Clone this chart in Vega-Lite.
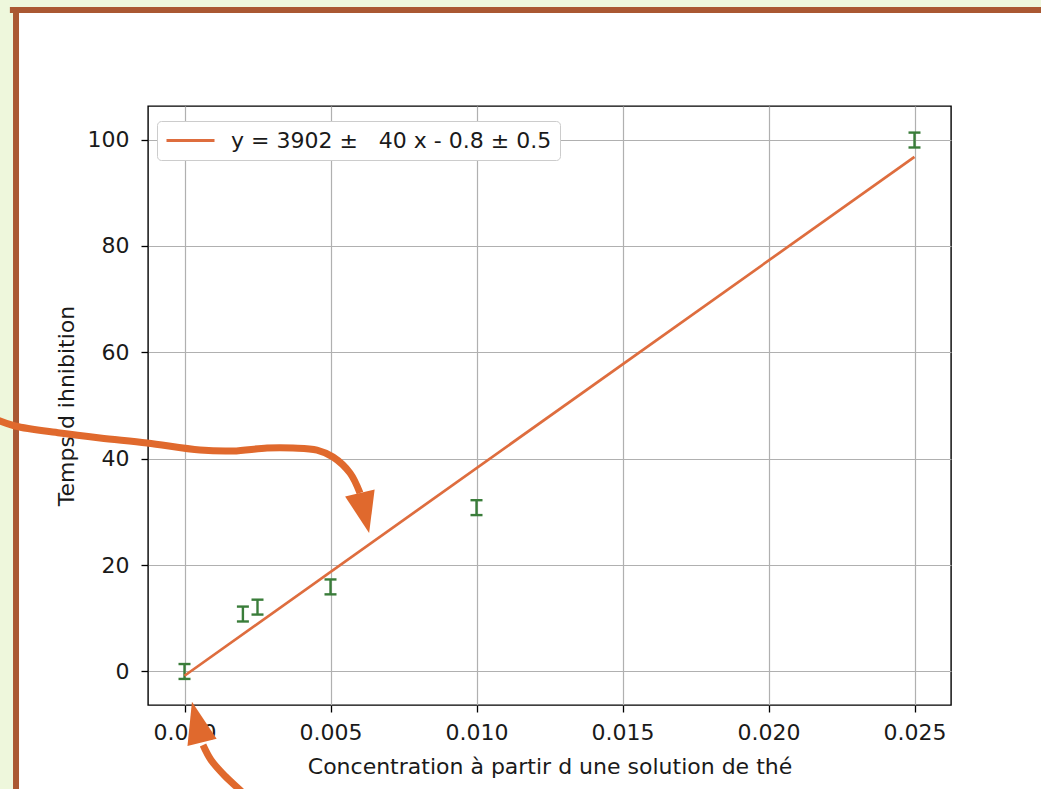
{
  "$schema": "https://vega.github.io/schema/vega-lite/v6.json",
  "width": 803,
  "height": 599,
  "autosize": {"type": "none"},
  "padding": {"left": 148, "top": 106, "right": 90, "bottom": 84},
  "background": "white",
  "config": {
    "font": "DejaVu Sans",
    "view": {"stroke": "black", "strokeWidth": 1.4},
    "axis": {
      "domain": false, "grid": true, "gridColor": "#b0b0b0", "gridWidth": 1.2,
      "tickColor": "black", "tickSize": 7, "tickWidth": 1.3,
      "labelFont": "DejaVu Sans", "labelFontSize": 22, "labelColor": "#1a1a1a",
      "titleFont": "DejaVu Sans", "titleFontSize": 22, "titleFontWeight": "normal", "titleColor": "#1a1a1a"
    },
    "axisX": {"labelPadding": 10, "titlePadding": 13},
    "axisY": {"labelPadding": 12, "titlePadding": 9},
    "legend": {
      "orient": "none", "legendX": 9, "legendY": 15,
      "fillColor": "white", "strokeColor": "#cccccc", "cornerRadius": 4, "padding": 8,
      "symbolType": "stroke", "symbolSize": 2304, "symbolStrokeWidth": 2.8, "clipHeight": 23,
      "labelFont": "DejaVu Sans", "labelFontSize": 22, "labelColor": "#1a1a1a", "labelOffset": 15, "labelLimit": 0
    }
  },
  "datasets": {
    "mesures": [
      {"conc": 0, "temps": 0, "err": 1.4},
      {"conc": 0.002, "temps": 10.8, "err": 1.4},
      {"conc": 0.0025, "temps": 12.1, "err": 1.4},
      {"conc": 0.005, "temps": 15.9, "err": 1.4},
      {"conc": 0.01, "temps": 30.8, "err": 1.4},
      {"conc": 0.025, "temps": 99.9, "err": 1.4}
    ],
    "ajustement": [
      {"conc": 0, "temps": -0.8, "label": "y = 3902 ±\u00a0\u00a0\u00a040 x - 0.8 ± 0.5"},
      {"conc": 0.025, "temps": 96.75, "label": "y = 3902 ±\u00a0\u00a0\u00a040 x - 0.8 ± 0.5"}
    ],
    "fleches": [
      {"arrow": "a", "i": 0, "x": -0.00649, "y": 47.46},
      {"arrow": "a", "i": 1, "x": -0.005805, "y": 46.15},
      {"arrow": "a", "i": 2, "x": -0.004264, "y": 44.83},
      {"arrow": "a", "i": 3, "x": -0.002894, "y": 43.89},
      {"arrow": "a", "i": 4, "x": -0.001284, "y": 42.95},
      {"arrow": "a", "i": 5, "x": 0.000531, "y": 41.63},
      {"arrow": "a", "i": 6, "x": 0.001661, "y": 41.45},
      {"arrow": "a", "i": 7, "x": 0.002825, "y": 42.01},
      {"arrow": "a", "i": 8, "x": 0.003716, "y": 42.01},
      {"arrow": "a", "i": 9, "x": 0.004538, "y": 41.63},
      {"arrow": "a", "i": 10, "x": 0.005086, "y": 40.32},
      {"arrow": "a", "i": 11, "x": 0.005668, "y": 37.31},
      {"arrow": "a", "i": 12, "x": 0.00601, "y": 33.55},
      {"arrow": "b", "i": 0, "x": 0.000634, "y": -13.82},
      {"arrow": "b", "i": 1, "x": 0.000908, "y": -16.64},
      {"arrow": "b", "i": 2, "x": 0.001387, "y": -19.65},
      {"arrow": "b", "i": 3, "x": 0.001901, "y": -22.28},
      {"arrow": "b", "i": 4, "x": 0.002243, "y": -24.16}
    ]
  },
  "layer": [
    {
      "data": {"values": [{}]},
      "mark": {"type": "rect", "color": "#eef7dc"},
      "encoding": {
        "x": {"datum": -0.0072, "type": "quantitative", "scale": {"domain": [-0.00125, 0.02625], "nice": false, "zero": false}, "title": "Concentration à partir d une solution de thé"},
        "x2": {"datum": -0.005873},
        "y": {"datum": 128.5, "type": "quantitative", "scale": {"domain": [-6.3, 106.3], "nice": false, "zero": false}, "title": "Temps d ihnibition"},
        "y2": {"datum": -25}
      }
    },
    {
      "data": {"values": [{}]},
      "mark": {"type": "rect", "color": "#eef7dc"},
      "encoding": {
        "x": {"datum": -0.0072, "type": "quantitative", "scale": {"domain": [-0.00125, 0.02625], "nice": false, "zero": false}, "title": "Concentration à partir d une solution de thé"},
        "x2": {"datum": 0.0300},
        "y": {"datum": 128.5, "type": "quantitative", "scale": {"domain": [-6.3, 106.3], "nice": false, "zero": false}, "title": "Temps d ihnibition"},
        "y2": {"datum": 124.91}
      }
    },
    {
      "data": {"values": [{}]},
      "mark": {"type": "rule", "color": "#aa5832", "strokeWidth": 6},
      "encoding": {
        "x": {"datum": -0.00577, "type": "quantitative", "scale": {"domain": [-0.00125, 0.02625], "nice": false, "zero": false}, "title": "Concentration à partir d une solution de thé"},
        "y": {"datum": 124.91, "type": "quantitative", "scale": {"domain": [-6.3, 106.3], "nice": false, "zero": false}, "title": "Temps d ihnibition"},
        "y2": {"datum": -25}
      }
    },
    {
      "data": {"values": [{}]},
      "mark": {"type": "rule", "color": "#aa5832", "strokeWidth": 6},
      "encoding": {
        "x": {"datum": -0.00598, "type": "quantitative", "scale": {"domain": [-0.00125, 0.02625], "nice": false, "zero": false}, "title": "Concentration à partir d une solution de thé"},
        "x2": {"datum": 0.0300},
        "y": {"datum": 124.35, "type": "quantitative", "scale": {"domain": [-6.3, 106.3], "nice": false, "zero": false}, "title": "Temps d ihnibition"}
      }
    },
    {
      "data": {"name": "mesures"},
      "mark": {"type": "errorbar", "color": "#3a7d3a", "opacity": 1, "thickness": 2.4, "ticks": {"size": 12}},
      "encoding": {
        "x": {"field": "conc", "type": "quantitative", "scale": {"domain": [-0.00125, 0.02625], "nice": false, "zero": false},
              "axis": {"values": [0, 0.005, 0.01, 0.015, 0.02, 0.025], "format": ".3f"}, "title": "Concentration à partir d une solution de thé"},
        "y": {"field": "temps", "type": "quantitative", "scale": {"domain": [-6.3, 106.3], "nice": false, "zero": false},
              "axis": {"values": [0, 20, 40, 60, 80, 100]}, "title": "Temps d ihnibition"},
        "yError": {"field": "err"}
      }
    },
    {
      "data": {"name": "ajustement"},
      "mark": {"type": "line", "strokeWidth": 2.7},
      "encoding": {
        "x": {"field": "conc", "type": "quantitative", "scale": {"domain": [-0.00125, 0.02625], "nice": false, "zero": false}, "title": "Concentration à partir d une solution de thé"},
        "y": {"field": "temps", "type": "quantitative", "scale": {"domain": [-6.3, 106.3], "nice": false, "zero": false}, "title": "Temps d ihnibition"},
        "color": {"field": "label", "type": "nominal", "scale": {"range": ["#de6d3e"]}, "legend": {"title": null}}
      }
    },
    {
      "data": {"name": "fleches"},
      "mark": {"type": "line", "color": "#e0692d", "strokeWidth": 7, "interpolate": "catmull-rom", "strokeCap": "butt"},
      "encoding": {
        "x": {"field": "x", "type": "quantitative", "scale": {"domain": [-0.00125, 0.02625], "nice": false, "zero": false}, "title": "Concentration à partir d une solution de thé"},
        "y": {"field": "y", "type": "quantitative", "scale": {"domain": [-6.3, 106.3], "nice": false, "zero": false}, "title": "Temps d ihnibition"},
        "detail": {"field": "arrow"},
        "order": {"field": "i"}
      }
    },
    {
      "data": {"values": [{}]},
      "mark": {"type": "point", "filled": true, "opacity": 1, "color": "#e0692d", "shape": "M -0.74 -1 L 0.74 -1 L 0 1 Z", "size": 1681, "angle": 347},
      "encoding": {
        "x": {"datum": 0.006164, "type": "quantitative", "scale": {"domain": [-0.00125, 0.02625], "nice": false, "zero": false}, "title": "Concentration à partir d une solution de thé"},
        "y": {"datum": 29.79, "type": "quantitative", "scale": {"domain": [-6.3, 106.3], "nice": false, "zero": false}, "title": "Temps d ihnibition"}
      }
    },
    {
      "data": {"values": [{}]},
      "mark": {"type": "point", "filled": true, "opacity": 1, "color": "#e0692d", "shape": "M -0.72 -1 L 0.72 -1 L 0 1 Z", "size": 1740, "angle": 166},
      "encoding": {
        "x": {"datum": 0.000428, "type": "quantitative", "scale": {"domain": [-0.00125, 0.02625], "nice": false, "zero": false}, "title": "Concentration à partir d une solution de thé"},
        "y": {"datum": -9.5, "type": "quantitative", "scale": {"domain": [-6.3, 106.3], "nice": false, "zero": false}, "title": "Temps d ihnibition"}
      }
    }
  ]
}
